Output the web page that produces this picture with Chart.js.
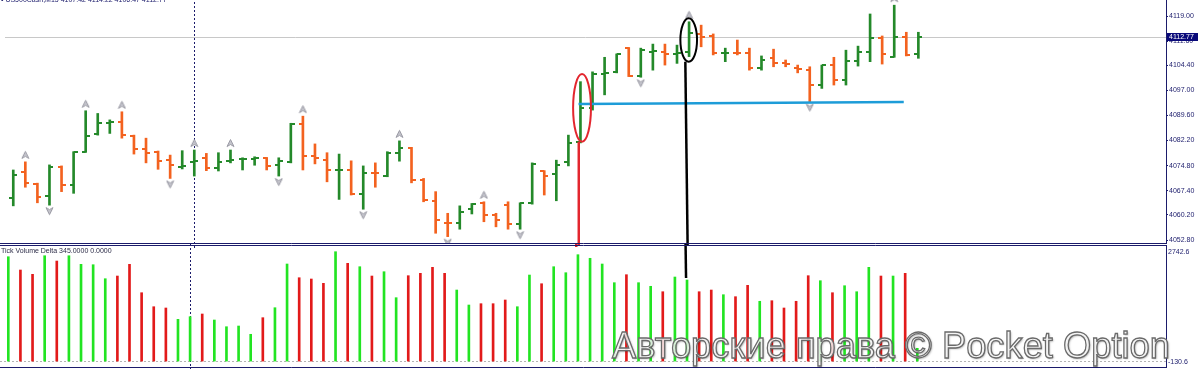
<!DOCTYPE html>
<html><head><meta charset="utf-8">
<script src="https://cdn.jsdelivr.net/npm/chart.js@4.4.1/dist/chart.umd.min.js"></script>
<style>
html,body{margin:0;padding:0;background:#fff;}
body{width:1200px;height:369px;position:relative;overflow:hidden;font-family:'Liberation Sans',Arial,sans-serif}
canvas{position:absolute;left:0}
#c1{top:-6px}
#c2{top:244px}
.lbl{position:absolute;white-space:nowrap;color:#1b1b6b;font-size:7px;line-height:8px;font-family:'Liberation Sans',Arial,sans-serif}
#hdr{left:1px;top:-4px}
#tvd{left:1px;top:247px;color:#2c2c48}
#wm{position:absolute;left:612px;top:326.7px;font-size:37px;line-height:37px;white-space:nowrap;color:rgba(255,255,255,0.82);-webkit-text-stroke:1.3px #6a6a6a;text-shadow:1px 1px 2px rgba(0,0,0,.35);transform-origin:0 0;font-family:'Liberation Sans',Arial,sans-serif}
</style></head><body>
<canvas id="c1" width="1200" height="256"></canvas>
<canvas id="c2" width="1200" height="125"></canvas>
<div class="lbl" id="hdr">• US500Cash,M15  4107.42 4114.22 4106.47 4112.77</div>
<div class="lbl" id="tvd">Tick Volume Delta 345.0000 0.0000</div>
<div id="wm">Авторские права © Pocket Option</div>
<script>
// ---------- data ----------
const open  = [4065.1,4073.0,4069.4,4065.8,4074.5,4069.1,4078.9,4084.0,4087.3,4087.6,4083.6,4079.6,4078.9,4076.4,4074.5,4075.9,4076.9,4074.0,4076.2,4076.6,
               4076.7,4077.1,4075.0,4075.9,4087.0,4077.6,4076.4,4073.4,4073.5,4066.3,4072.7,4071.7,4078.4,4079.9,4070.5,4064.4,4057.9,4057.7,4061.9,4063.8,
               4060.2,4063.1,4057.5,4063.6,4073.2,4072.3,4075.9,4081.9,4091.7,4101.9,4102.5,4109.5,4101.3,4108.4,4108.4,4107.8,4108.4,4113.7,4113.1,4108.0,
               4108.2,4108.2,4103.5,4106.6,4105.0,4103.5,4103.0,4098.6,4104.5,4100.1,4105.8,4108.3,4112.4,4107.0,4112.7,4107.8];
const high  = [4073.5,4075.9,4069.6,4075.0,4074.7,4078.9,4091.0,4090.2,4088.3,4090.7,4083.8,4082.9,4079.1,4077.9,4079.2,4079.4,4078.4,4078.6,4079.4,4077.1,
               4077.4,4077.2,4077.1,4087.3,4089.4,4081.2,4078.6,4078.2,4076.2,4074.7,4075.6,4078.9,4082.1,4080.2,4071.0,4067.1,4060.7,4062.9,4063.6,4064.1,
               4060.7,4064.1,4063.8,4075.6,4073.3,4076.4,4083.8,4099.6,4102.5,4106.8,4107.8,4109.7,4109.5,4110.7,4110.7,4110.4,4117.3,4116.3,4113.7,4109.5,
               4111.9,4109.5,4107.2,4109.2,4106.0,4104.5,4104.0,4104.5,4106.8,4108.9,4110.1,4119.6,4113.1,4122.2,4114.2,4114.2];
const low   = [4062.9,4068.4,4063.8,4063.1,4067.1,4066.6,4078.7,4083.8,4084.3,4082.9,4078.2,4075.6,4073.7,4071.0,4073.8,4071.7,4073.3,4073.2,4075.6,4073.5,
               4074.9,4073.5,4071.7,4075.6,4073.5,4075.3,4070.0,4064.8,4066.1,4061.9,4068.4,4071.5,4076.1,4069.7,4064.1,4054.8,4053.8,4056.0,4060.5,4058.2,
               4056.7,4056.0,4056.0,4063.4,4066.1,4064.4,4074.7,4081.5,4091.2,4095.7,4102.2,4101.1,4100.9,4103.0,4104.5,4105.0,4107.0,4109.9,4107.5,4105.5,
               4107.5,4103.0,4103.0,4104.0,4104.0,4102.2,4093.7,4097.6,4098.6,4098.6,4104.2,4105.5,4104.8,4106.8,4107.2,4106.5];
const close = [4072.0,4069.7,4065.6,4074.5,4069.1,4078.9,4083.6,4087.3,4087.8,4083.8,4079.7,4078.6,4076.2,4075.0,4074.6,4076.2,4074.0,4075.9,4076.5,4076.8,
               4076.9,4074.7,4076.2,4087.0,4077.6,4076.9,4073.5,4073.6,4066.3,4072.7,4072.5,4078.4,4079.9,4070.5,4064.6,4058.7,4057.7,4061.2,4063.4,4060.2,
               4058.7,4057.5,4063.6,4075.3,4071.7,4075.0,4081.6,4091.7,4101.9,4102.2,4107.7,4101.3,4108.9,4108.7,4107.8,4108.0,4113.9,4112.9,4108.0,4108.2,
               4108.0,4103.5,4106.0,4105.0,4104.9,4103.2,4098.6,4104.5,4100.1,4105.8,4108.3,4112.4,4107.8,4112.7,4107.5,4112.77];
const tickVolume = [2532,2211,2107,2556,2428,2556,2349,2339,2001,2066,2349,1663,1325,1294,1021,1084,1149,1004,842,859,
                    659,1060,1301,2356,2025,1994,1890,2653,2373,2291,2066,2170,1543,2074,2131,2276,2131,1728,1366,1398,
                    1398,1487,1325,2090,1880,2291,2146,2581,2494,2356,1905,2098,1905,1818,1687,2042,1970,1687,1728,1615,
                    1567,1842,1456,1470,1294,1456,2074,1953,1663,1832,1687,2276,2066,2066,2131,321];
const upFractals   = [1,6,9,15,18,24,32,39,56,73];
const downFractals = [3,13,22,29,36,42,52,66];
const priceTicks   = [4119.00,4111.60,4104.40,4097.00,4089.60,4082.20,4074.80,4067.40,4060.20,4052.80];
const priceRange   = [4051.92,4123.73];
const volumeRange  = [-130.6,2742.6];
const indexRange   = [-0.685,95.52];
const separatorIndex = 15;
// hand-drawn objects (bar index / price / volume)
const blueLineIdx   = [46.84,73.79];
const blueLinePrice = [4093.0,4093.6];
const redEllipseIdx   = [46.39,47.87];
const redEllipsePrice = [4081.86,4101.86];
const redLineIdx = 46.86;
const blackEllipseIdx   = [55.28,56.66];
const blackEllipsePrice = [4105.5,4118.32];
const blackLineIdx = [55.69,55.88,55.92];
const blackLineEnd = [4105.5,2018];

// ---------- styles ----------
const navy='#1b1b6b', GREEN='#24892a', ORANGE='#f3621f', VGREEN='#22e422', VRED='#e21a1a';
const tickFont={family:"'Liberation Sans Narrow','Liberation Sans',sans-serif",size:7};
const fontStr="7px 'Liberation Sans Narrow','Liberation Sans',sans-serif";
const N=close.length, idx=close.map((_,i)=>i);
const isUp=i=>close[i]>=open[i];
function mk(w,h,f){const c=document.createElement('canvas');c.width=w;c.height=h;f(c.getContext('2d'));return c;}
const tickImg=(col,side)=>mk(8,2,g=>{g.fillStyle=col;g.fillRect(side<0?0:4,0,4,2);});
const openG=tickImg(GREEN,-1), openO=tickImg(ORANGE,-1), closeG=tickImg(GREEN,1), closeO=tickImg(ORANGE,1);
const arrowUp=mk(9,24,g=>{g.fillStyle='#c4c4cc';g.strokeStyle='#9a9aa4';g.lineWidth=1;g.beginPath();g.moveTo(4.5,1.5);g.lineTo(8,8.5);g.lineTo(4.5,6.5);g.lineTo(1,8.5);g.closePath();g.fill();g.stroke();});
const arrowDown=mk(9,24,g=>{g.fillStyle='#c4c4cc';g.strokeStyle='#9a9aa4';g.lineWidth=1;g.beginPath();g.moveTo(4.5,21.5);g.lineTo(8,14.5);g.lineTo(4.5,16.5);g.lineTo(1,14.5);g.closePath();g.fill();g.stroke();});

function ell(ctx,x,y,xs,ys,color){
  const X0=x.getPixelForValue(xs[0]),X1=x.getPixelForValue(xs[1]);
  const Y0=y.getPixelForValue(ys[1]),Y1=y.getPixelForValue(ys[0]);
  ctx.beginPath();ctx.ellipse((X0+X1)/2,(Y0+Y1)/2,(X1-X0)/2,(Y1-Y0)/2,0,0,Math.PI*2);
  ctx.strokeStyle=color;ctx.lineWidth=2;ctx.stroke();
}
function sep(chart){
  const {ctx,scales:{x}}=chart;const sx=Math.round(x.getPixelForValue(separatorIndex))+0.5;
  ctx.save();ctx.strokeStyle=navy;ctx.lineWidth=1;ctx.setLineDash([2,2]);
  ctx.beginPath();ctx.moveTo(sx,0);ctx.lineTo(sx,chart.height);ctx.stroke();ctx.restore();
}

const mainDeco={id:'mainDeco',
  beforeDatasetsDraw(chart){
    const {ctx,chartArea:a,scales:{y}}=chart;
    const py=Math.round(y.getPixelForValue(close[N-1]))+0.5;
    ctx.save();ctx.strokeStyle='#c8c8c8';ctx.lineWidth=1;
    ctx.beginPath();ctx.moveTo(a.left,py);ctx.lineTo(a.right,py);ctx.stroke();ctx.restore();
    sep(chart);
  },
  afterDatasetsDraw(chart){
    const {ctx,chartArea:a,scales:{x,y}}=chart;
    ctx.save();
    ell(ctx,x,y,redEllipseIdx,redEllipsePrice,'#e3262e');
    ctx.strokeStyle='#e3262e';ctx.lineWidth=2.5;ctx.beginPath();
    ctx.moveTo(x.getPixelForValue(redLineIdx),y.getPixelForValue(redEllipsePrice[0]));
    ctx.lineTo(x.getPixelForValue(redLineIdx),a.bottom+3);ctx.stroke();
    ell(ctx,x,y,blackEllipseIdx,blackEllipsePrice,'#000');
    ctx.strokeStyle='#000';ctx.lineWidth=2.5;ctx.beginPath();
    ctx.moveTo(x.getPixelForValue(blackLineIdx[0]),y.getPixelForValue(blackLineEnd[0]));
    ctx.lineTo(x.getPixelForValue(blackLineIdx[1]),a.bottom+3);ctx.stroke();
    ctx.restore();
  },
  afterDraw(chart){
    const {ctx,chartArea:a,scales:{y}}=chart;
    ctx.save();
    ctx.strokeStyle=navy;ctx.lineWidth=1;ctx.beginPath();ctx.moveTo(0,a.bottom+0.5);ctx.lineTo(a.right+1,a.bottom+0.5);ctx.stroke();
    const py=y.getPixelForValue(close[N-1]);
    ctx.fillStyle='#0a0a7a';ctx.fillRect(a.right+1,Math.round(py)-4,31,8);
    ctx.fillStyle='#fff';ctx.font=fontStr;ctx.textBaseline='middle';ctx.textAlign='left';
    ctx.fillText(close[N-1].toFixed(2),a.right+3,Math.round(py));
    ctx.restore();
  }
};

new Chart(document.getElementById('c1'),{
  type:'bar',
  data:{datasets:[
    {type:'line',data:blueLineIdx.map((v,i)=>({x:v,y:blueLinePrice[i]})),borderColor:'#1d9cd8',borderWidth:2.5,pointRadius:0,order:-1},
    {type:'bar',data:idx.map(i=>({x:i,y:[low[i],high[i]]})),backgroundColor:idx.map(i=>isUp(i)?GREEN:ORANGE),barThickness:2,borderWidth:0,grouped:false,order:1},
    {type:'line',data:idx.map(i=>({x:i,y:open[i]})),showLine:false,pointRadius:3,pointStyle:c=>isUp(c.dataIndex)?openG:openO,order:0},
    {type:'line',data:idx.map(i=>({x:i,y:close[i]})),showLine:false,pointRadius:3,pointStyle:c=>isUp(c.dataIndex)?closeG:closeO,order:0},
    {type:'line',data:upFractals.map(i=>({x:i,y:high[i]})),showLine:false,pointRadius:3,pointStyle:arrowUp,order:0},
    {type:'line',data:downFractals.map(i=>({x:i,y:low[i]})),showLine:false,pointRadius:3,pointStyle:arrowDown,order:0}
  ]},
  options:{
    responsive:false,animation:false,events:[],
    layout:{padding:{left:0,right:0,top:6,bottom:7}},
    plugins:{legend:{display:false},tooltip:{enabled:false}},
    scales:{
      x:{type:'linear',min:indexRange[0],max:indexRange[1],offset:false,display:false},
      y:{position:'right',min:priceRange[0],max:priceRange[1],beginAtZero:false,
         afterBuildTicks:a=>{a.ticks=priceTicks.map(v=>({value:v}));},
         afterFit:a=>{a.width=34;},
         grid:{drawOnChartArea:false,drawTicks:true,tickLength:2,color:navy},
         border:{color:navy,width:1},
         ticks:{color:navy,font:tickFont,padding:1,autoSkip:false,callback:v=>Number(v).toFixed(2)}}
    }
  },
  plugins:[mainDeco]
});

const volDeco={id:'volDeco',
  beforeDatasetsDraw(chart){sep(chart);},
  afterDatasetsDraw(chart){
    const {ctx,chartArea:a,scales:{x,y}}=chart;
    ctx.save();
    ctx.strokeStyle='#e3262e';ctx.lineWidth=2.5;ctx.beginPath();
    ctx.moveTo(x.getPixelForValue(redLineIdx),0);ctx.lineTo(x.getPixelForValue(redLineIdx),a.top-1);ctx.stroke();
    ctx.strokeStyle='#000';ctx.beginPath();
    ctx.moveTo(x.getPixelForValue(blackLineIdx[1]),0);ctx.lineTo(x.getPixelForValue(blackLineIdx[2]),y.getPixelForValue(blackLineEnd[1]));ctx.stroke();
    ctx.restore();
  },
  afterDraw(chart){
    const {ctx,chartArea:a,scales:{y}}=chart;
    ctx.save();ctx.strokeStyle=navy;ctx.lineWidth=1;ctx.beginPath();
    ctx.moveTo(0,1.5);ctx.lineTo(a.right+1,1.5);
    ctx.moveTo(0,a.bottom+0.5);ctx.lineTo(a.right+1,a.bottom+0.5);
    ctx.moveTo(a.right+0.5,1.5);ctx.lineTo(a.right+0.5,a.bottom+0.5);ctx.stroke();
    ctx.fillStyle=navy;ctx.font=fontStr;ctx.textAlign='left';
    ctx.textBaseline='top';ctx.fillText(volumeRange[1].toFixed(1),a.right+2,y.getPixelForValue(volumeRange[1])+1);
    ctx.textBaseline='bottom';ctx.fillText(volumeRange[0].toFixed(1),a.right+2,y.getPixelForValue(volumeRange[0])-1);
    ctx.restore();
  }
};

new Chart(document.getElementById('c2'),{
  type:'bar',
  data:{datasets:[{data:idx.map(i=>({x:i,y:tickVolume[i]})),backgroundColor:idx.map(i=>isUp(i)?VGREEN:VRED),barThickness:2,borderWidth:0,grouped:false}]},
  options:{
    responsive:false,animation:false,events:[],
    layout:{padding:{left:0,right:0,top:4,bottom:2}},
    plugins:{legend:{display:false},tooltip:{enabled:false}},
    scales:{
      x:{type:'linear',min:indexRange[0],max:indexRange[1],offset:false,display:false},
      y:{position:'right',min:volumeRange[0],max:volumeRange[1],beginAtZero:false,
         afterBuildTicks:a=>{a.ticks=[{value:0}];},
         afterFit:a=>{a.width=34;a.paddingTop=0;a.paddingBottom=0;},
         grid:{drawOnChartArea:true,drawTicks:false,color:'#b4b4b4'},
         border:{color:navy,width:1,dash:[2,2]},
         ticks:{display:false}}
    }
  },
  plugins:[volDeco]
});

const wm=document.getElementById('wm');
const ww=wm.getBoundingClientRect().width;
wm.style.transform='scaleX('+(558/ww)+')';
</script>
</body></html>
